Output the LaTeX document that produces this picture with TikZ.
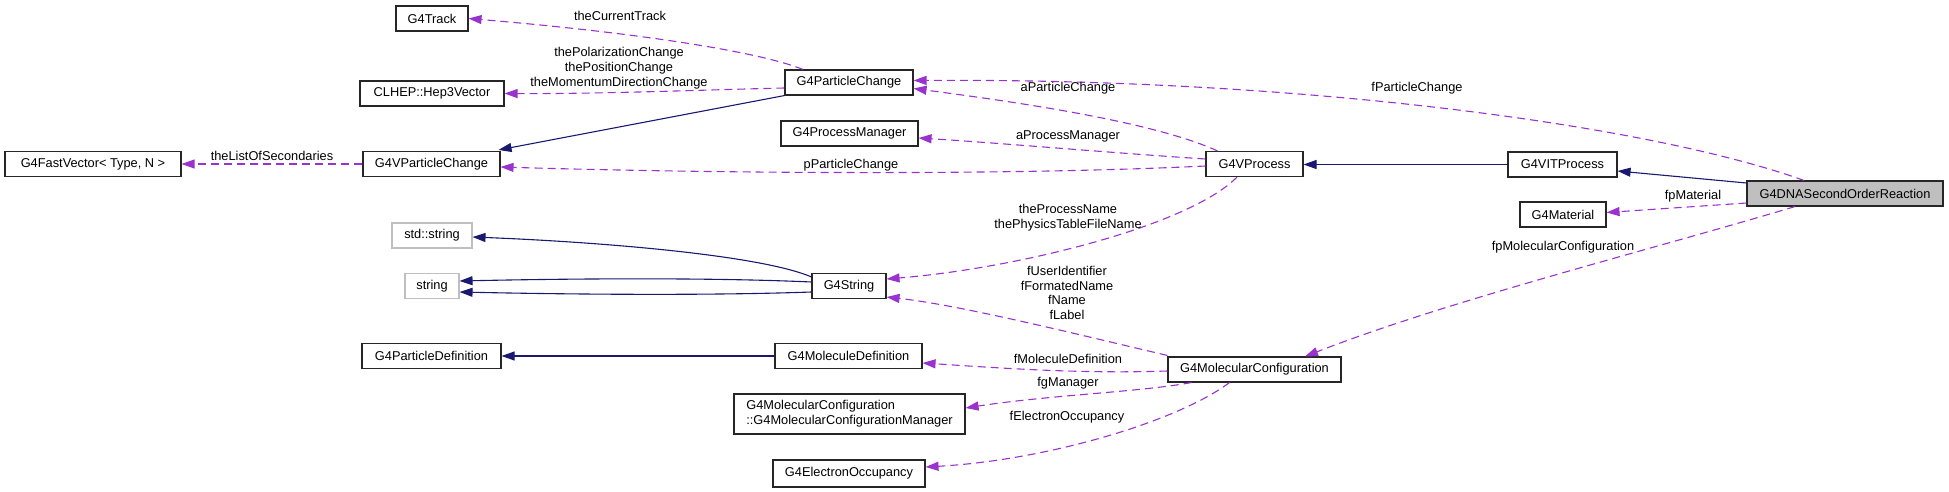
\documentclass[tikz,border=0pt]{standalone}
\usepackage{fontspec}
\setmainfont{Liberation Sans}
\usetikzlibrary{arrows.meta,calc}
\definecolor{inhcol}{HTML}{191970}
\definecolor{usecol}{HTML}{9A32CD}
\definecolor{grayline}{HTML}{BFBFBF}
\begin{document}
\begin{tikzpicture}[x=1pt,y=-1pt,
  every node/.style={font=\fontsize{12.8}{14.7}\selectfont},
  box/.style={draw=black!85,line width=1.1pt,fill=white,inner sep=0pt,minimum height=25pt,align=center},
  graybox/.style={box,draw=grayline},
  inh/.style={draw=inhcol,line width=1.1pt,-{Triangle[length=13pt,width=9pt]}},
  use/.style={draw=usecol,line width=1.1pt,dash pattern=on 8pt off 5pt,-{Triangle[length=13pt,width=9pt]}},
  lbl/.style={inner sep=0pt,align=center}]
\useasboundingbox (0,0) rectangle (1949,492);
% nodes
\node[box,minimum width=72pt] (track) at (432,18.5) {G4Track};
\node[box,minimum width=144pt] (hep) at (432,93.5) {CLHEP::Hep3Vector};
\node[box,minimum width=176pt] (fast) at (93,164) {G4FastVector< Type, N >};
\node[box,minimum width=137pt] (vpc) at (431.5,164) {G4VParticleChange};
\node[graybox,minimum width=80pt] (stds) at (432,235.5) {std::string};
\node[graybox,minimum width=54pt] (str) at (432,286) {string};
\node[box,minimum width=139pt] (pdef) at (431.5,356) {G4ParticleDefinition};
\node[box,minimum width=128pt] (pc) at (849,82.5) {G4ParticleChange};
\node[box,minimum width=137pt] (pm) at (849.5,133.5) {G4ProcessManager};
\node[box,minimum width=97pt] (vproc) at (1254.5,164) {G4VProcess};
\node[box,minimum width=74pt] (g4str) at (849,286) {G4String};
\node[box,minimum width=147pt] (mdef) at (848.5,356) {G4MoleculeDefinition};
\node[box,minimum width=231pt,minimum height=40pt,align=left] (mgr) at (849.5,414) {G4MolecularConfiguration\\::G4MolecularConfigurationManager};
\node[box,minimum width=152pt,minimum height=27pt] (eocc) at (849,473.5) {G4ElectronOccupancy};
\node[box,minimum width=173pt] (mconf) at (1254.5,369.5) {G4MolecularConfiguration};
\node[box,minimum width=109pt] (vit) at (1562.5,164.5) {G4VITProcess};
\node[box,minimum width=86pt] (mat) at (1563,214.5) {G4Material};
\node[box,minimum width=196pt,fill=grayline] (dna) at (1845,193.5) {G4DNASecondOrderReaction};
% edges
\draw[use] ($(pc.north)+(-46,0)$) .. controls (760,52) and (640,33) .. (track.east);
\draw[use] ($(pc.west)+(0,5.5)$) .. controls (700,90) and (600,94) .. (hep.east);
\draw[inh] (pc.south west) -- ($(vpc.north east)+(-2,-1)$);
\draw[use] (vpc.west) -- (fast.east);
\draw[use] ($(vproc.north)+(-37,0)$) .. controls (1150,120) and (1000,100) .. ($(pc.east)+(0,6)$);
\draw[use] ($(vproc.west)+(0,-5)$) .. controls (1100,152) and (1000,143) .. ($(pm.east)+(0,4.5)$);
\draw[use] ($(vproc.west)+(0,2)$) .. controls (1000,176) and (700,173) .. ($(vpc.east)+(0,3)$);
\draw[inh] (vit.west) -- ($(vproc.east)+(0,0.5)$);
\draw[inh] ($(dna.west)+(0,-10.5)$) -- ($(vit.east)+(0,6.5)$);
\draw[use] ($(dna.north)+(-41,0)$) .. controls (1650,125) and (1300,78) .. ($(pc.east)+(0,-2)$);
\draw[use] ($(dna.west)+(0,9.5)$) -- ($(mat.east)+(0,-2)$);
\draw[use] ($(dna.south)+(-50,0)$) .. controls (1650,250) and (1450,300) .. ($(mconf.north)+(50.5,0)$);
\draw[use] ($(vproc.south)+(-17.5,0)$) .. controls (1190,225) and (1020,268) .. ($(g4str.east)+(0,-7)$);
\draw[inh] ($(g4str.north west)+(0,4)$) .. controls (760,255) and (600,242) .. ($(stds.east)+(0,1.5)$);
\draw[inh] ($(g4str.west)+(0,-4)$) .. controls (700,277) and (550,279) .. ($(str.east)+(0,-5)$);
\draw[inh] ($(g4str.west)+(0,6)$) .. controls (700,296) and (550,294) .. ($(str.east)+(0,6)$);
\draw[inh] (mdef.west) -- (pdef.east);
\draw[use] ($(mconf.north west)+(0,-1)$) .. controls (1080,335) and (960,305) .. ($(g4str.south east)+(0,-2)$);
\draw[use] ($(mconf.west)+(0,1.5)$) .. controls (1080,374) and (1000,368) .. ($(mdef.east)+(0,7)$);
\draw[use] ($(mconf.south west)+(24,0)$) .. controls (1140,392) and (1050,395) .. ($(mgr.east)+(0,-6)$);
\draw[use] ($(mconf.south west)+(62,0)$) .. controls (1180,420) and (1050,460) .. ($(eocc.east)+(0,-6.5)$);
% labels
\node[lbl] (l1) at (620,16) {theCurrentTrack};
\node[lbl] (l2) at (619,68) {thePolarizationChange\\thePositionChange\\theMomentumDirectionChange};
\node[lbl] (l3) at (272,156) {theListOfSecondaries};
\node[lbl] (l4) at (1068,88) {aParticleChange};
\node[lbl] (l5) at (1068,136) {aProcessManager};
\node[lbl] (l6) at (851,165) {pParticleChange};
\node[lbl] (l7) at (1417,88) {fParticleChange};
\node[lbl] (l8) at (1693,196) {fpMaterial};
\node[lbl] (l9) at (1563,247) {fpMolecularConfiguration};
\node[lbl] (l10) at (1068,217.5) {theProcessName\\thePhysicsTableFileName};
\node[lbl] (l11) at (1067,293) {fUserIdentifier\\fFormatedName\\fName\\fLabel};
\node[lbl] (l12) at (1068,359) {fMoleculeDefinition};
\node[lbl] (l13) at (1068,383) {fgManager};
\node[lbl] (l14) at (1067,417) {fElectronOccupancy};
\end{tikzpicture}
\end{document}
